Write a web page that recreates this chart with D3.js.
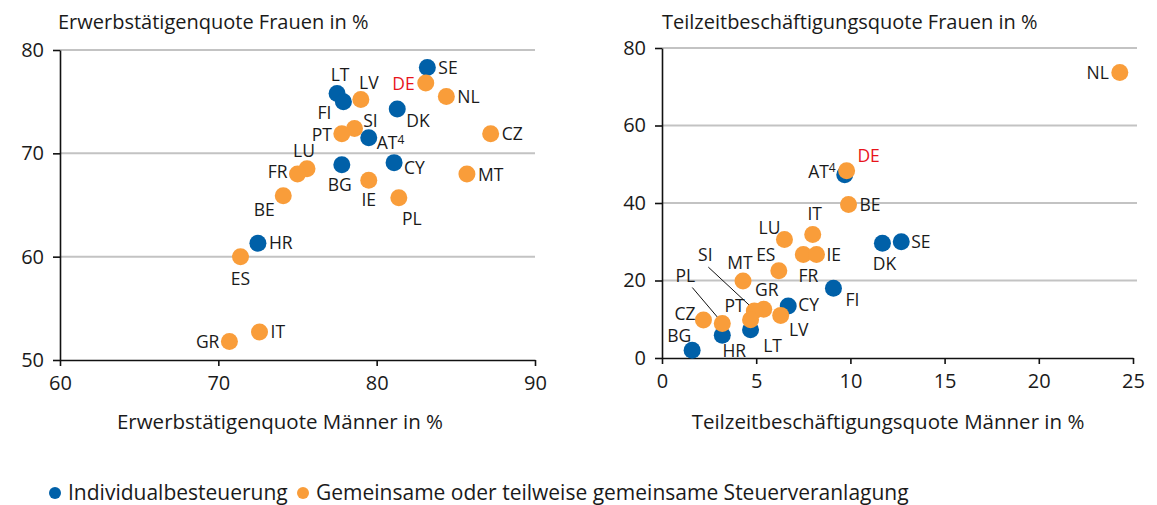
<!DOCTYPE html>
<html>
<head>
<meta charset="utf-8">
<script src="https://d3js.org/d3.v7.min.js"></script>
<style>
  body { margin: 0; background: #fff; }
  svg text { font-family: "Open Sans", "Liberation Sans", Arial, sans-serif; fill: #1a1a1a; }
</style>
</head>
<body>
<svg width="1157" height="505"></svg>
<script>
// left chart: employment rate
var empCountries = ["SE","DE","NL","LT","FI","LV","DK","SI","PT","AT","CZ","CY","BG","LU","FR","MT","IE","PL","BE","HR","ES","IT","GR"];
var empMen   = [83.2, 83.1, 84.4, 77.5, 77.9, 79.0, 81.3, 78.6, 77.8, 79.5, 87.2, 81.1, 77.8, 75.6, 75.0, 85.7, 79.5, 81.4, 74.1, 72.5, 71.4, 72.6, 70.7];
var empWomen = [78.3, 76.8, 75.5, 75.8, 75.0, 75.2, 74.3, 72.4, 71.9, 71.5, 71.9, 69.1, 68.9, 68.5, 68.0, 68.0, 67.4, 65.7, 65.9, 61.3, 60.0, 52.7, 51.8];
var empGroup = ["I","G","G","I","I","G","I","G","G","I","G","I","I","G","G","G","G","G","G","I","G","G","G"];

// right chart: part-time rate
var ptCountries = ["NL","DE","AT","BE","IT","LU","SE","DK","FR","IE","ES","MT","FI","CY","GR","SI","PT","LV","LT","HR","PL","CZ","BG"];
var ptMen   = [24.3, 9.8, 9.7, 9.9, 8.0, 6.5, 12.7, 11.7, 7.5, 8.2, 6.2, 4.3, 9.1, 6.7, 5.4, 4.9, 4.7, 6.3, 4.7, 3.2, 3.2, 2.2, 1.6];
var ptWomen = [73.7, 48.3, 47.3, 39.6, 31.9, 30.6, 30.0, 29.6, 26.7, 26.7, 22.5, 19.9, 18.0, 13.4, 12.6, 12.1, 9.9, 11.0, 7.3, 5.9, 8.9, 9.8, 2.0];
var ptGroup = ["G","G","I","G","G","G","I","I","G","G","G","G","I","I","G","G","G","G","I","I","G","G","I"];

var empXTicks = [60, 70, 80, 90], empYTicks = [50, 60, 70, 80];
var ptXTicks = [0, 5, 10, 15, 20, 25], ptYTicks = [0, 20, 40, 60, 80];

var legendLabels = ["Individualbesteuerung", "Gemeinsame oder teilweise gemeinsame Steuerveranlagung"];

// label placement: [dx, dy, anchor] relative to the dot centre
var empLabelPos = {
  SE:[11,0,"start"], DE:[-11,1,"end"], NL:[11,0,"start"], LT:[3,-19,"middle"], FI:[-19,11,"middle"],
  LV:[8,-17,"middle"], DK:[9,12,"start"], SI:[16,-8,"middle"], PT:[-10,1,"end"], AT:[8,5,"start"],
  CZ:[11,0,"start"], CY:[10,5,"start"], BG:[-2,20,"middle"], LU:[-3,-18,"middle"], FR:[-10,-2,"end"],
  MT:[11,1,"start"], IE:[0,20,"middle"], PL:[13,21,"middle"], BE:[-19,14,"middle"], HR:[11,0,"start"],
  ES:[0,22,"middle"], IT:[11,0,"start"], GR:[-10,0,"end"]
};
var ptLabelPos = {
  NL:[-11,0,"end"], DE:[22,-15,"middle"], AT:[-9,-3,"end"], BE:[11,0,"start"], IT:[2,-21,"middle"],
  LU:[-15,-12,"middle"], SE:[10,0,"start"], DK:[2,21,"middle"], FR:[5,21,"middle"], IE:[10,0,"start"],
  ES:[-13,-16,"middle"], MT:[-3,-18,"middle"], FI:[19,12,"middle"], CY:[10,-1,"start"], GR:[3,-19,"middle"],
  SI:[-49,-56,"middle"], PT:[-16,-14,"middle"], LV:[18,14,"middle"], LT:[22,16,"middle"], HR:[12,16,"middle"],
  PL:[-37,-48,"middle"], CZ:[-8,-6,"end"], BG:[-13,-14,"middle"]
};
// leader lines [x1,y1,x2,y2] relative to the dot
var ptLeaders = { SI:[-46,-44,-4,-5], PL:[-30,-36,-2,-3] };

var BLUE = "#0060a8", ORANGE = "#f99d3a", GRID = "#c3c3c3";
var svg = d3.select("svg");

function drawChart(cfg) {
  var x = d3.scaleLinear().domain(cfg.xDomain).range(cfg.xRange);
  var y = d3.scaleLinear().domain(cfg.yDomain).range(cfg.yRange);
  var g = svg.append("g");

  // gridlines
  g.selectAll(".grid").data(cfg.yTicks.slice(1)).enter().append("line")
    .attr("x1", cfg.xRange[0]).attr("x2", cfg.gridEnd)
    .attr("y1", d => y(d)).attr("y2", d => y(d))
    .attr("stroke", GRID).attr("stroke-width", 2);

  var ya = g.append("g").attr("transform", "translate(" + cfg.xRange[0] + ",0)")
    .call(d3.axisLeft(y).tickValues(cfg.yTicks).tickSize(7).tickSizeOuter(0).tickPadding(9));
  var xa = g.append("g").attr("transform", "translate(0," + cfg.yRange[0] + ")")
    .call(d3.axisBottom(x).tickValues(cfg.xTicks).tickSize(6).tickSizeOuter(0).tickPadding(10));
  [ya, xa].forEach(function(a) {
    a.select(".domain").attr("stroke", "#111").attr("stroke-width", 1.6);
    a.selectAll(".tick line").attr("stroke", "#111").attr("stroke-width", 1.6);
    a.selectAll(".tick text").style("font-size", "20px").attr("fill", "#1a1a1a")
      .style("font-family", "'Open Sans', 'Liberation Sans', Arial, sans-serif");
  });

  g.append("text").attr("x", cfg.titleX).attr("y", 29).style("font-size", "20px").text(cfg.title);
  g.append("text").attr("x", cfg.xTitleX).attr("y", 429).attr("text-anchor", "middle")
    .style("font-size", "20.5px").text(cfg.xTitle);

  var pts = cfg.names.map(function(n, i) {
    return { name: n, x: cfg.xs[i], y: cfg.ys[i], grp: cfg.grp[i] };
  });
  // leader lines
  pts.filter(d => cfg.leaders[d.name]).forEach(function(d) {
    var l = cfg.leaders[d.name];
    g.append("line")
      .attr("x1", x(d.x) + l[0]).attr("y1", y(d.y) + l[1])
      .attr("x2", x(d.x) + l[2]).attr("y2", y(d.y) + l[3])
      .attr("stroke", "#111").attr("stroke-width", 1);
  });
  // blue first, orange on top
  var sorted = pts.filter(d => d.grp == "I").concat(pts.filter(d => d.grp == "G"));
  g.selectAll(".dot").data(sorted).enter().append("circle")
    .attr("cx", d => x(d.x)).attr("cy", d => y(d.y)).attr("r", 8.5)
    .attr("fill", d => d.grp == "I" ? BLUE : ORANGE);

  var lab = g.selectAll(".lab").data(pts).enter().append("text")
    .attr("x", d => x(d.x) + cfg.labels[d.name][0])
    .attr("y", d => y(d.y) + cfg.labels[d.name][1])
    .attr("dy", "0.35em")
    .attr("text-anchor", d => cfg.labels[d.name][2])
    .style("font-size", "17.5px")
    .style("fill", d => d.name == "DE" ? "#e8141b" : "#1a1a1a");
  lab.append("tspan").text(d => d.name);
  lab.filter(d => d.name == "AT").append("tspan")
    .attr("dy", "-0.45em").style("font-size", "12px").text("4");
}

drawChart({
  names: empCountries, xs: empMen, ys: empWomen, grp: empGroup,
  xDomain: [60, 90], xRange: [60, 535], yDomain: [50, 80], yRange: [360, 50],
  xTicks: empXTicks, yTicks: empYTicks, gridEnd: 535,
  labels: empLabelPos, leaders: {},
  title: "Erwerbstätigenquote Frauen in %", titleX: 58,
  xTitle: "Erwerbstätigenquote Männer in %", xTitleX: 280
});

drawChart({
  names: ptCountries, xs: ptMen, ys: ptWomen, grp: ptGroup,
  xDomain: [0, 25], xRange: [662, 1133], yDomain: [0, 80], yRange: [358, 48],
  xTicks: ptXTicks, yTicks: ptYTicks, gridEnd: 1137,
  labels: ptLabelPos, leaders: ptLeaders,
  title: "Teilzeitbeschäftigungsquote Frauen in %", titleX: 662,
  xTitle: "Teilzeitbeschäftigungsquote Männer in %", xTitleX: 888
});

// legend
var leg = svg.append("g");
var legX = [55, 303];
legendLabels.forEach(function(t, i) {
  leg.append("circle").attr("cx", legX[i]).attr("cy", 493).attr("r", 6)
    .attr("fill", i == 0 ? BLUE : ORANGE);
  leg.append("text").attr("x", legX[i] + 13).attr("y", 493).attr("dy", "0.35em")
    .style("font-size", "21px").text(t);
});
</script>
</body>
</html>
